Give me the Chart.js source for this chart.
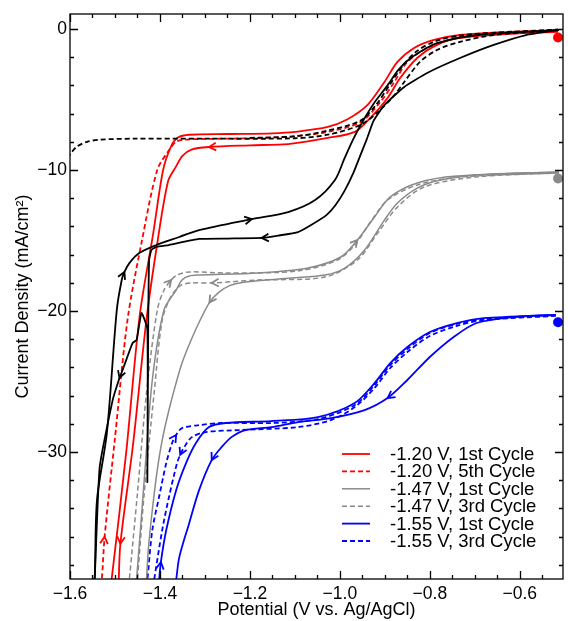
<!DOCTYPE html>
<html>
<head>
<meta charset="utf-8">
<script src="https://cdn.jsdelivr.net/npm/chart.js@4.4.1/dist/chart.umd.min.js"></script>
<style>
  html, body { margin: 0; padding: 0; background: #fff; }
  canvas { display: block; }
</style>
</head>
<body>
<canvas id="c" width="568" height="621"></canvas>
<script>
// Eixos
const xTickVals = [-1.6, -1.4, -1.2, -1.0, -0.8, -0.6];
const yTickVals = [-30, -20, -10, 0];

// Preto sólido (sem legenda) - varredura catódica / anódica
const blackCathV = [-0.513, -0.586, -0.658, -0.733, -0.806, -0.857, -0.901, -0.925, -0.94, -0.955, -0.97, -0.99, -1.01, -1.03, -1.064, -1.093, -1.137, -1.174, -1.25, -1.313, -1.38, -1.408, -1.419, -1.424, -1.426, -1.428, -1.428, -1.441, -1.452, -1.461, -1.483, -1.49, -1.505, -1.534, -1.545, -1.548];
const blackCathJ = [-0.07, -0.43, -1.13, -2.06, -3.12, -4.11, -5.39, -6.5, -7.8, -9.0, -10.2, -11.5, -12.5, -13.2, -13.9, -14.4, -14.65, -14.82, -14.86, -14.89, -15.32, -15.46, -15.67, -16.38, -20.64, -32.13, -21.3, -20.14, -22.06, -22.27, -24.18, -24.75, -26.3, -31.06, -38.87, -39.5];
const blackAnodV = [-1.548, -1.545, -1.54, -1.518, -1.496, -1.485, -1.479, -1.468, -1.446, -1.408, -1.357, -1.313, -1.196, -1.115, -1.055, -1.011, -0.99, -0.97, -0.95, -0.925, -0.894, -0.87, -0.844, -0.81, -0.784, -0.696, -0.513];
const blackAnodJ = [-39.5, -38.87, -33.4, -28.65, -19.93, -17.8, -17.23, -16.6, -15.89, -15.32, -14.75, -14.26, -13.48, -12.98, -12.13, -10.71, -9.2, -7.8, -6.6, -5.3, -4.0, -2.9, -2.1, -1.4, -1.0, -0.43, -0.07];

// Preto tracejado (sem legenda)
const blackDashCathV = [-0.515, -0.658, -0.733, -0.784, -0.822, -0.857, -0.879, -0.916, -0.954, -1.027, -1.1, -1.3, -1.46, -1.534, -1.562, -1.585, -1.6, -1.615];
const blackDashCathJ = [-0.1, -0.43, -0.92, -1.49, -2.34, -3.76, -4.7, -5.9, -6.8, -7.5, -7.75, -7.78, -7.78, -7.85, -8.0, -8.35, -8.9, -9.6];
const blackDashAnodV = [-1.2, -1.1, -1.027, -0.954, -0.92, -0.89, -0.86, -0.83, -0.79, -0.73, -0.62, -0.515];
const blackDashAnodJ = [-7.72, -7.62, -7.2, -6.5, -5.4, -4.0, -2.6, -1.6, -0.9, -0.45, -0.2, -0.05];

// -1.20 V, 1st Cycle
const red1CathV = [-0.515, -0.623, -0.733, -0.784, -0.828, -0.866, -0.894, -0.932, -0.967, -1.027, -1.115, -1.2, -1.291, -1.33, -1.35, -1.365, -1.382, -1.405, -1.43, -1.46, -1.488, -1.492];
const red1CathJ = [-0.2, -0.35, -0.64, -1.13, -2.06, -3.48, -4.89, -6.3, -7.3, -7.73, -8.16, -8.25, -8.37, -8.55, -9.0, -9.8, -10.8, -15.0, -20.6, -29.5, -36.5, -39.5];
const red1AnodV = [-1.51, -1.507, -1.475, -1.445, -1.415, -1.393, -1.375, -1.36, -1.335, -1.25, -1.15, -1.1, -1.027, -0.983, -0.939, -0.901, -0.872, -0.835, -0.791, -0.733, -0.623, -0.515];
const red1AnodJ = [-39.5, -38.9, -30, -20.3, -14.5, -10.0, -8.3, -7.7, -7.5, -7.45, -7.4, -7.3, -6.95, -6.4, -5.4, -3.76, -2.34, -1.35, -0.78, -0.43, -0.21, -0.1];

// -1.20 V, 5th Cycle
const red5V = [-1.532, -1.529, -1.523, -1.5, -1.472, -1.44, -1.406, -1.38, -1.364, -1.345, -1.3, -1.2, -1.1, -1.027, -0.954, -0.91, -0.879, -0.85, -0.806, -0.733, -0.623, -0.515];
const red5J = [-39.5, -38.9, -36.0, -29, -20.6, -15, -10, -8.6, -8.0, -7.85, -7.8, -7.75, -7.6, -7.3, -6.6, -5.18, -3.76, -2.34, -1.35, -0.57, -0.3, -0.15];

// -1.47 V, 1st Cycle
const gray1CathV = [-0.513, -0.696, -0.777, -0.828, -0.872, -0.901, -0.945, -0.989, -1.033, -1.108, -1.21, -1.245, -1.27, -1.29, -1.31, -1.33, -1.35, -1.365, -1.38, -1.395, -1.406, -1.417, -1.426, -1.43, -1.432];
const gray1CathJ = [-10.14, -10.35, -10.71, -11.28, -12.34, -13.55, -15.67, -16.95, -17.45, -17.66, -17.94, -18.2, -18.7, -19.4, -20.6, -22.0, -23.6, -25.2, -27.02, -29.15, -31.28, -34.11, -36.95, -39.0, -39.5];
const gray1AnodV = [-1.455, -1.452, -1.435, -1.417, -1.391, -1.364, -1.351, -1.335, -1.313, -1.181, -1.071, -0.998, -0.961, -0.923, -0.888, -0.828, -0.74, -0.513];
const gray1AnodJ = [-39.5, -39.0, -31.99, -24.89, -19.93, -18.51, -17.8, -17.52, -17.45, -17.3, -16.95, -16.17, -14.96, -13.33, -11.91, -10.92, -10.43, -10.14];

// -1.47 V, 3rd Cycle
const gray3CathV = [-0.513, -0.7, -0.813, -0.872, -0.916, -0.961, -1.033, -1.181, -1.285, -1.329, -1.353, -1.375, -1.395, -1.413, -1.435, -1.45, -1.452];
const gray3CathJ = [-10.21, -10.5, -11.21, -12.62, -14.47, -16.38, -17.59, -17.8, -18.01, -18.01, -18.16, -18.94, -20.64, -25.82, -32.91, -39.0, -39.5];
const gray3AnodV = [-1.47, -1.468, -1.45, -1.43, -1.406, -1.391, -1.375, -1.362, -1.335, -1.254, -1.093, -1.005, -0.967, -0.932, -0.894, -0.828, -0.733, -0.513];
const gray3AnodJ = [-39.5, -39.0, -32.9, -25.82, -19.93, -18.51, -17.8, -17.45, -17.23, -17.3, -17.16, -16.38, -15.32, -13.69, -12.13, -11.06, -10.5, -10.21];

// -1.55 V, 1st Cycle
const blue1CathV = [-0.52, -0.614, -0.696, -0.747, -0.8, -0.85, -0.894, -0.945, -1.02, -1.093, -1.152, -1.21, -1.241, -1.263, -1.285, -1.313, -1.335, -1.357, -1.364, -1.366];
const blue1CathJ = [-20.28, -20.43, -20.85, -21.84, -23.26, -24.89, -26.17, -27.02, -27.59, -27.87, -28.23, -28.44, -28.94, -29.65, -30.57, -32.7, -35.04, -37.45, -39.08, -39.5];
const blue1AnodV = [-1.404, -1.402, -1.398, -1.386, -1.364, -1.342, -1.32, -1.291, -1.254, -1.152, -1.049, -0.967, -0.923, -0.888, -0.85, -0.8, -0.74, -0.68, -0.52];
const blue1AnodJ = [-39.5, -39.08, -37.8, -35.53, -32.7, -30.78, -29.36, -28.23, -27.94, -27.8, -27.52, -26.52, -25.11, -23.69, -22.55, -21.49, -20.85, -20.5, -20.28];

// -1.55 V, 3rd Cycle
const blue3CathV = [-0.52, -0.68, -0.74, -0.8, -0.85, -0.888, -0.923, -0.967, -1.02, -1.093, -1.225, -1.298, -1.329, -1.346, -1.355, -1.362, -1.38, -1.395, -1.413, -1.415];
const blue3CathJ = [-20.35, -20.64, -21.06, -21.77, -22.91, -24.04, -25.46, -26.81, -27.73, -28.23, -28.44, -28.58, -28.94, -29.65, -30.2, -30.78, -33.19, -35.53, -39.08, -39.5];
const blue3AnodV = [-1.43, -1.428, -1.417, -1.402, -1.386, -1.373, -1.364, -1.351, -1.313, -1.263, -1.152, -1.049, -0.967, -0.923, -0.888, -0.85, -0.8, -0.74, -0.68, -0.52];
const blue3AnodJ = [-39.5, -39.08, -35.53, -33.19, -30.78, -29.36, -28.79, -28.3, -28.09, -27.94, -27.94, -27.66, -26.67, -25.25, -23.83, -22.7, -21.56, -20.92, -20.57, -20.28];

// Pontos no potencial de repouso
const restV = [-0.515, -0.515, -0.515];
const restJ = [-0.6, -10.6, -20.8];

const legendLabels = ['-1.20 V, 1st Cycle', '-1.20 V, 5th Cycle', '-1.47 V, 1st Cycle', '-1.47 V, 3rd Cycle', '-1.55 V, 1st Cycle', '-1.55 V, 3rd Cycle'];

const RED = '#ff0000', GRAY = '#8a8a8a', BLUE = '#0000ff', BLACK = '#000000';
const DASH = [5, 3];
const FONT = 'Liberation Sans, Arial, Helvetica, sans-serif';

const curvas = [
  { key: 'kc',  v: blackCathV,     j: blackCathJ,     cor: BLACK, dash: [],   arrows: [17, 31], tension: 0.15 },
  { key: 'ka',  v: blackAnodV,     j: blackAnodJ,     cor: BLACK, dash: [],   arrows: [6, 12] },
  { key: 'kdc', v: blackDashCathV, j: blackDashCathJ, cor: BLACK, dash: DASH, arrows: [] },
  { key: 'kda', v: blackDashAnodV, j: blackDashAnodJ, cor: BLACK, dash: DASH, arrows: [] },
  { key: 'r1c', v: red1CathV,      j: red1CathJ,      cor: RED,   dash: [],   arrows: [12, 20], legend: 0 },
  { key: 'r1a', v: red1AnodV,      j: red1AnodJ,      cor: RED,   dash: [],   arrows: [] },
  { key: 'r5',  v: red5V,          j: red5J,          cor: RED,   dash: DASH, arrows: [2], legend: 1 },
  { key: 'g1c', v: gray1CathV,     j: gray1CathJ,     cor: GRAY,  dash: [],   arrows: [13], legend: 2, width: 1.5 },
  { key: 'g1a', v: gray1AnodV,     j: gray1AnodJ,     cor: GRAY,  dash: [],   arrows: [12], width: 1.5 },
  { key: 'g3c', v: gray3CathV,     j: gray3CathJ,     cor: GRAY,  dash: DASH, arrows: [8], legend: 3, width: 1.5 },
  { key: 'g3a', v: gray3AnodV,     j: gray3AnodJ,     cor: GRAY,  dash: DASH, arrows: [6], width: 1.5 },
  { key: 'b1c', v: blue1CathV,     j: blue1CathJ,     cor: BLUE,  dash: [],   arrows: [6, 14], legend: 4 },
  { key: 'b1a', v: blue1AnodV,     j: blue1AnodJ,     cor: BLUE,  dash: [],   arrows: [2] },
  { key: 'b3c', v: blue3CathV,     j: blue3CathJ,     cor: BLUE,  dash: DASH, arrows: [14], legend: 5 },
  { key: 'b3a', v: blue3AnodV,     j: blue3AnodJ,     cor: BLUE,  dash: DASH, arrows: [6] },
];

const datasets = curvas.map(c => ({
  key: c.key,
  data: c.v.map((v, i) => ({ x: v, y: c.j[i] })),
  showLine: true,
  borderColor: c.cor,
  backgroundColor: c.cor,
  borderWidth: c.width || 1.8,
  borderDash: c.dash,
  pointRadius: 0,
  tension: c.tension ?? 0.3,
  arrows: c.arrows,
}));

datasets.push({
  key: 'rest',
  data: restV.map((v, i) => ({ x: v, y: restJ[i] })),
  showLine: false,
  pointRadius: 5,
  pointBorderWidth: 0,
  pointBackgroundColor: [RED, GRAY, BLUE],
  arrows: [],
});

const decorPlugin = {
  id: 'decor',
  afterDatasetsDraw(chart) {
    const { ctx, chartArea: a, scales: { x, y } } = chart;
    ctx.save();

    // setas de direção da varredura
    chart.data.datasets.forEach((ds, di) => {
      const pts = chart.getDatasetMeta(di).data;
      (ds.arrows || []).forEach(i => {
        const p = pts[i], p0 = pts[i - 1], p1 = pts[i + 1];
        const ang = Math.atan2(p1.y - p0.y, p1.x - p0.x);
        const L = 8, w = 0.5;
        ctx.strokeStyle = ds.borderColor;
        ctx.lineWidth = 1.8;
        ctx.setLineDash([]);
        ctx.beginPath();
        ctx.moveTo(p.x - L * Math.cos(ang - w), p.y - L * Math.sin(ang - w));
        ctx.lineTo(p.x, p.y);
        ctx.lineTo(p.x - L * Math.cos(ang + w), p.y - L * Math.sin(ang + w));
        ctx.stroke();
      });
    });

    // moldura e ticks internos
    ctx.setLineDash([]);
    ctx.strokeStyle = '#000';
    ctx.lineWidth = 1.3;
    ctx.strokeRect(a.left, a.top, a.right - a.left, a.bottom - a.top);
    ctx.beginPath();
    for (let k = 0; k <= 22; k++) {
      const v = -1.6 + k * 0.05;
      if (v > x.max) break;
      const px = Math.round(x.getPixelForValue(v)) + 0.5;
      const len = k % 4 === 0 ? 8 : 4;
      ctx.moveTo(px, a.bottom); ctx.lineTo(px, a.bottom - len);
      ctx.moveTo(px, a.top); ctx.lineTo(px, a.top + len);
    }
    for (let v = -38; v <= 0; v += 2) {
      const py = Math.round(y.getPixelForValue(v)) + 0.5;
      const len = v % 10 === 0 ? 8 : 4;
      ctx.moveTo(a.left, py); ctx.lineTo(a.left + len, py);
      ctx.moveTo(a.right, py); ctx.lineTo(a.right - len, py);
    }
    ctx.stroke();

    // legenda dentro do gráfico
    ctx.font = '18.5px ' + FONT;
    ctx.textBaseline = 'middle';
    ctx.textAlign = 'left';
    curvas.filter(c => c.legend !== undefined).forEach(c => {
      const ry = a.top + 440 + c.legend * 17.4;
      ctx.strokeStyle = c.cor;
      ctx.lineWidth = c.width || 1.8;
      ctx.setLineDash(c.dash);
      ctx.beginPath();
      ctx.moveTo(a.left + 272, ry);
      ctx.lineTo(a.left + 300, ry);
      ctx.stroke();
      ctx.fillStyle = '#000';
      ctx.fillText(legendLabels[c.legend], a.left + 320, ry + 1);
    });
    ctx.setLineDash([]);

    // títulos dos eixos
    ctx.font = '18px ' + FONT;
    ctx.fillStyle = '#000';
    ctx.textAlign = 'center';
    ctx.fillText('Potential (V vs. Ag/AgCl)', (a.left + a.right) / 2, 610);
    ctx.translate(23, (a.top + a.bottom) / 2);
    ctx.rotate(-Math.PI / 2);
    ctx.fillText('Current Density (mA/cm\u00B2)', 0, 0);
    ctx.restore();
  }
};

const minus = v => (v < 0 ? '\u2212' : '');

new Chart(document.getElementById('c'), {
  type: 'scatter',
  data: { datasets },
  options: {
    responsive: false,
    animation: false,
    devicePixelRatio: 1,
    layout: { padding: { top: 14, right: 1, left: 0, bottom: 0 } },
    plugins: { legend: { display: false }, tooltip: { enabled: false } },
    scales: {
      x: {
        type: 'linear', min: -1.6, max: -0.504,
        grid: { display: false, drawTicks: false },
        border: { display: false },
        ticks: {
          color: '#000', font: { family: FONT, size: 17.5 }, padding: 5,
          autoSkip: false, maxRotation: 0,
          callback: v => minus(v) + Math.abs(v).toFixed(1),
        },
        afterBuildTicks: s => { s.ticks = xTickVals.map(v => ({ value: v })); },
        afterFit: s => { s.height = 42; },
      },
      y: {
        type: 'linear', min: -39.0, max: 1.06,
        grid: { display: false, drawTicks: false },
        border: { display: false },
        ticks: {
          color: '#000', font: { family: FONT, size: 17.5 }, padding: 3,
          autoSkip: false,
          callback: v => minus(v) + Math.abs(v),
        },
        afterBuildTicks: s => { s.ticks = yTickVals.map(v => ({ value: v })); },
        afterFit: s => { s.width = 70; },
      },
    },
  },
  plugins: [decorPlugin],
});
</script>
</body>
</html>
